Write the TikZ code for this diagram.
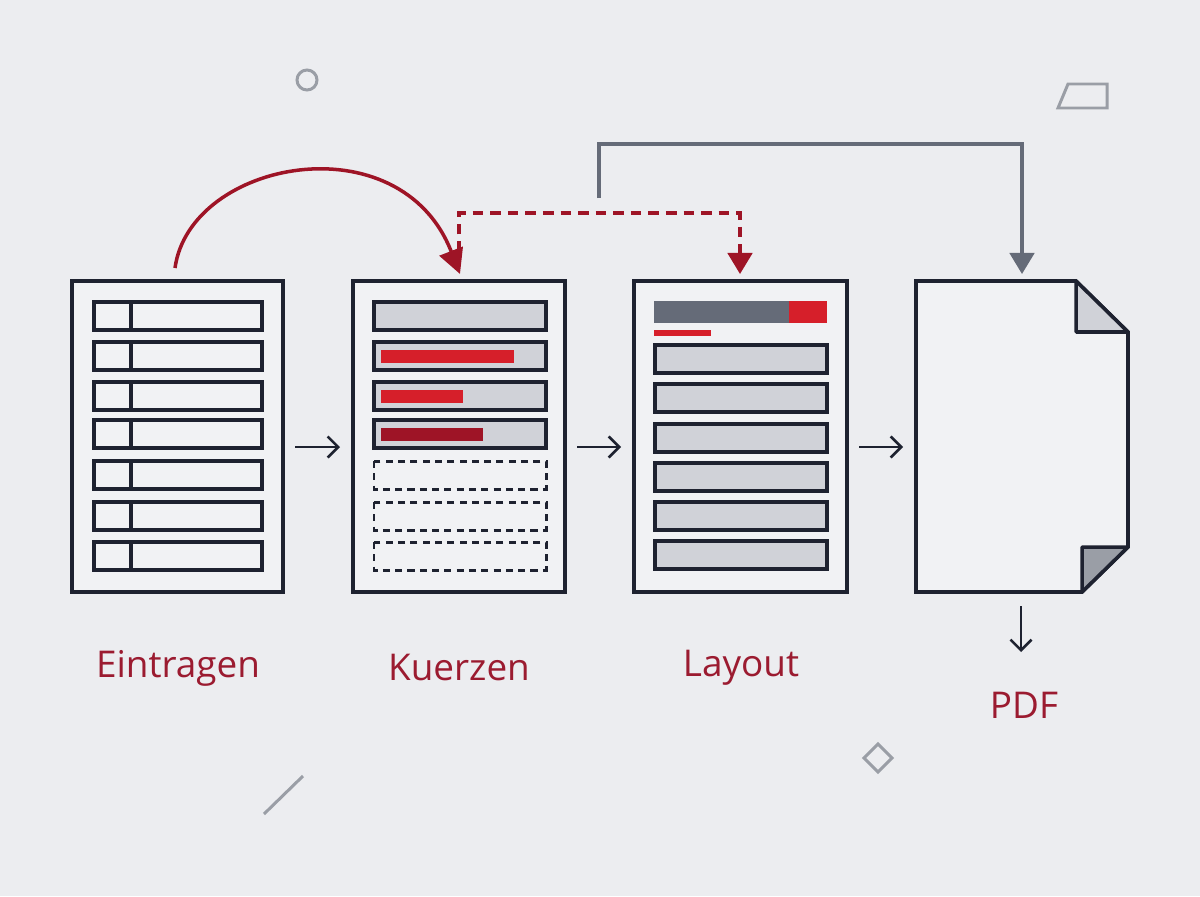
\documentclass[tikz,border=0pt]{standalone}
\usepackage{fontspec}
\setmainfont{Open Sans}
\usetikzlibrary{arrows.meta}
\definecolor{bg}{HTML}{ECEDF0}
\definecolor{pg}{HTML}{F1F2F4}
\definecolor{ink}{HTML}{1E2230}
\definecolor{lgray}{HTML}{D0D2D8}
\definecolor{dgray}{HTML}{656B78}
\definecolor{red1}{HTML}{D61F2A}
\definecolor{red2}{HTML}{9E1426}
\definecolor{lab}{HTML}{9B1B30}
\definecolor{deco}{HTML}{9A9EA6}
\begin{document}
\begin{tikzpicture}[x=0.02cm,y=-0.02cm,
  page/.style={draw=ink,fill=pg,line width=2.1pt},
  row/.style={draw=ink,line width=2pt},
  dashrow/.style={draw=ink,line width=1.7pt,dash pattern=on 4pt off 3pt},
  flow/.style={draw=ink,line width=1.5pt,-{Straight Barb[length=6pt,width=12pt]}},
  lbl/.style={text=lab,font=\fontsize{21}{24}\selectfont},
  deco/.style={draw=deco,line width=1.7pt}]
\fill[bg] (0,0) rectangle (1200,896);
\useasboundingbox (0,0) rectangle (1200,896);
% page 1
\draw[page] (72,281) rectangle (283,592);
\foreach \y in {302,342,382,420,461,502,542}{
  \draw[row] (94,\y) rectangle (262,\y+28);
  \draw[row] (131,\y) -- (131,\y+28);}
% page 2
\draw[page] (353,281) rectangle (565,592);
\foreach \y in {302,342,382,420}{\draw[row,fill=lgray] (374,\y) rectangle (546,\y+28);}
\fill[red1] (381,350) rectangle (514,363);
\fill[red1] (381,390) rectangle (463,403);
\fill[red2] (381,428) rectangle (483,441);
\foreach \y in {461,502,542}{\draw[dashrow] (374,\y) rectangle (546,\y+28);}
% page 3
\draw[page] (634,281) rectangle (847,592);
\fill[dgray] (654,301) rectangle (789,323);
\fill[red1] (789,301) rectangle (827,323);
\fill[red1] (654,330) rectangle (711,336);
\foreach \y in {345,384,424,463,502,541}{\draw[row,fill=lgray] (655,\y) rectangle (827,\y+28);}
% page 4
\draw[page] (916,281) -- (1076,281) -- (1128,332) -- (1128,547) -- (1082,592) -- (916,592) -- cycle;
\draw[row,fill=lgray,line join=round] (1076,281) -- (1076,332) -- (1128,332) -- cycle;
\draw[row,fill=deco,line join=round] (1082,547) -- (1128,547) -- (1082,592) -- cycle;
% flow arrows
\coordinate (a1) at (295,447); \coordinate (b1) at (340,447);
\coordinate (a2) at (577,447); \coordinate (b2) at (621,447);
\coordinate (a3) at (859,447); \coordinate (b3) at (903,447);
\coordinate (a4) at (1021,606); \coordinate (b4) at (1021,652);
\draw[flow] (a1) -- (b1);
\draw[flow] (a2) -- (b2);
\draw[flow] (a3) -- (b3);
\draw[flow] (a4) -- (b4);
% labels
\node[lbl] (l1) at (178,668) {Eintragen};
\node[lbl] (l2) at (459,668) {Kuerzen};
\node[lbl] (l3) at (741,668) {Layout};
\node[lbl] (l4) at (1024,705) {PDF};
% top connectors
\coordinate (s1) at (175,268); \coordinate (e1) at (460,274);
\draw[red2,line width=2pt,-{Triangle[length=14pt,width=14pt]}]
  (s1) .. controls (190,160) and (400,120) .. (e1);
\coordinate (s2) at (459,252); \coordinate (e2) at (740,274);
\draw[red2,line width=1.8pt,dash pattern=on 6pt off 4pt,-{Triangle[length=12pt,width=14pt]}]
  (s2) -- (459,213) -- (740,213) -- (e2);
\coordinate (s3) at (599,198); \coordinate (e3) at (1022,274);
\draw[dgray,line width=1.8pt,-{Triangle[length=12pt,width=14pt]}]
  (s3) -- (599,144) -- (1022,144) -- (e3);
% decorations
\draw[deco] (307,80) circle (10);
\draw[deco] (1068,84) -- (1107,84) -- (1107,108) -- (1058,108) -- cycle;
\draw[deco] (264,814) -- (303,776);
\draw[deco] (878,744) -- (892,758) -- (878,772) -- (864,758) -- cycle;
\end{tikzpicture}
\end{document}
